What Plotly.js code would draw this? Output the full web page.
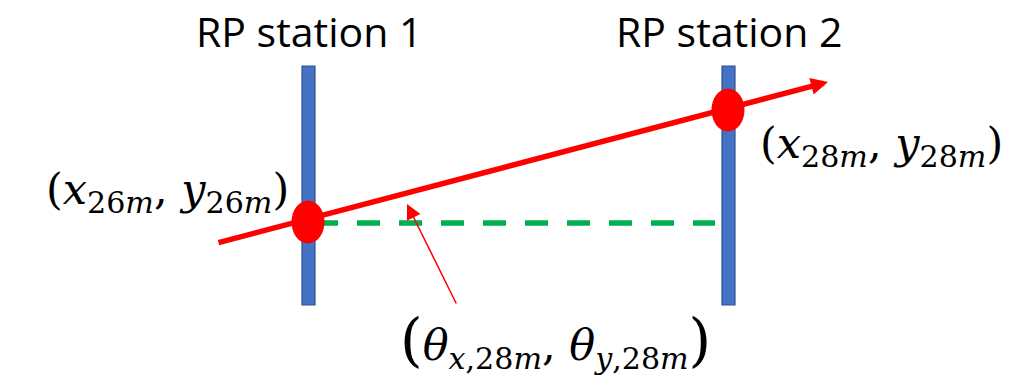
<!DOCTYPE html>
<html>
<head>
<meta charset="utf-8">
<script src="https://cdn.plot.ly/plotly-3.0.1.min.js"></script>
<style>html,body{margin:0;padding:0;background:#fff;}#plot{width:1014px;height:375px;}</style>
</head>
<body>
<div id="plot"></div>
<script>
// ---- diagram data (pixel-scale axis units) ----
const stationLabels = ['RP station 1', 'RP station 2'];
const stationX = [308.5, 728.5];          // centre of each RP station bar
const stationLabelY = [31, 31];
const stationTop = 66, stationBottom = 305;
const stationHalfWidth = 6.5;

const trackX = [217, 828];                // tail, tip of the proton track
const trackY = [243, 82];

const hitX = [308, 728];                  // hit points on the stations
const hitY = [222, 110];
const hitRx = 16.5, hitRy = 21.5;

const refLineX = [315, 715];              // horizontal reference (dashed)
const refLineY = [223, 223];

const angleArrowX = [457, 407];           // tail, tip of the angle pointer
const angleArrowY = [305, 204];

const pointLabels = [
  '(<i>x</i><sub>26<i>m</i></sub>, <i>y</i><sub>26<i>m</i></sub>)',
  '(<i>x</i><sub>28<i>m</i></sub>, <i>y</i><sub>28<i>m</i></sub>)',
  '<span style="font-size:58px">(</span><i>θ</i><sub><i>x</i>,28<i>m</i></sub>, <i>θ</i><sub><i>y</i>,28<i>m</i></sub><span style="font-size:58px">)</span>'
];
const pointLabelX = [167, 881, 555];
const pointLabelY = [192, 146, 341];

// ---- build ----
const shapes = [];
stationX.forEach(function (cx) {
  shapes.push({type: 'rect', xref: 'x', yref: 'y',
    x0: cx - stationHalfWidth, x1: cx + stationHalfWidth, y0: stationTop, y1: stationBottom,
    fillcolor: '#4472C4', line: {color: '#2F528F', width: 1.2}, layer: 'above'});
});
shapes.push({type: 'line', xref: 'x', yref: 'y',
  x0: refLineX[0], x1: refLineX[1], y0: refLineY[0], y1: refLineY[1],
  line: {color: '#00B050', width: 5.5, dash: '23px,19px'}, layer: 'above'});
hitX.forEach(function (hx, i) {
  shapes.push({type: 'circle', xref: 'x', yref: 'y',
    x0: hx - hitRx, x1: hx + hitRx, y0: hitY[i] - hitRy, y1: hitY[i] + hitRy,
    fillcolor: '#FF0000', line: {color: '#FF0000', width: 0}, layer: 'above'});
});

const annotations = [];
// proton track
annotations.push({x: trackX[1], y: trackY[1], ax: trackX[0], ay: trackY[0],
  xref: 'x', yref: 'y', axref: 'x', ayref: 'y', text: '', showarrow: true,
  arrowhead: 2, arrowsize: 0.62, arrowwidth: 5.5, arrowcolor: '#FF0000', standoff: 0});
// angle pointer
annotations.push({x: angleArrowX[1], y: angleArrowY[1], ax: angleArrowX[0], ay: angleArrowY[0],
  xref: 'x', yref: 'y', axref: 'x', ayref: 'y', text: '', showarrow: true,
  arrowhead: 2, arrowsize: 2, arrowwidth: 1.5, arrowcolor: '#FF0000', standoff: 0});
stationLabels.forEach(function (t, i) {
  annotations.push({x: stationX[i], y: stationLabelY[i], xref: 'x', yref: 'y', text: t,
    showarrow: false, xanchor: 'center', yanchor: 'middle',
    font: {family: "'Open Sans', 'Noto Sans', sans-serif", size: 41, color: '#000'}});
});
pointLabels.forEach(function (t, i) {
  annotations.push({x: pointLabelX[i], y: pointLabelY[i], xref: 'x', yref: 'y', text: t,
    showarrow: false, xanchor: 'center', yanchor: 'middle',
    font: {family: "'DejaVu Serif', 'Liberation Serif', serif", size: 43, color: '#000'}});
});

const layout = {
  width: 1014, height: 375,
  margin: {l: 0, r: 0, t: 0, b: 0, pad: 0},
  paper_bgcolor: '#FFFFFF', plot_bgcolor: '#FFFFFF',
  showlegend: false,
  xaxis: {range: [0, 1014], visible: false, fixedrange: true},
  yaxis: {range: [375, 0], visible: false, fixedrange: true},
  shapes: shapes,
  annotations: annotations
};

Plotly.newPlot('plot', [{x: [], y: [], type: 'scatter', mode: 'markers', hoverinfo: 'skip'}], layout,
  {displayModeBar: false, staticPlot: true});
</script>
</body>
</html>
